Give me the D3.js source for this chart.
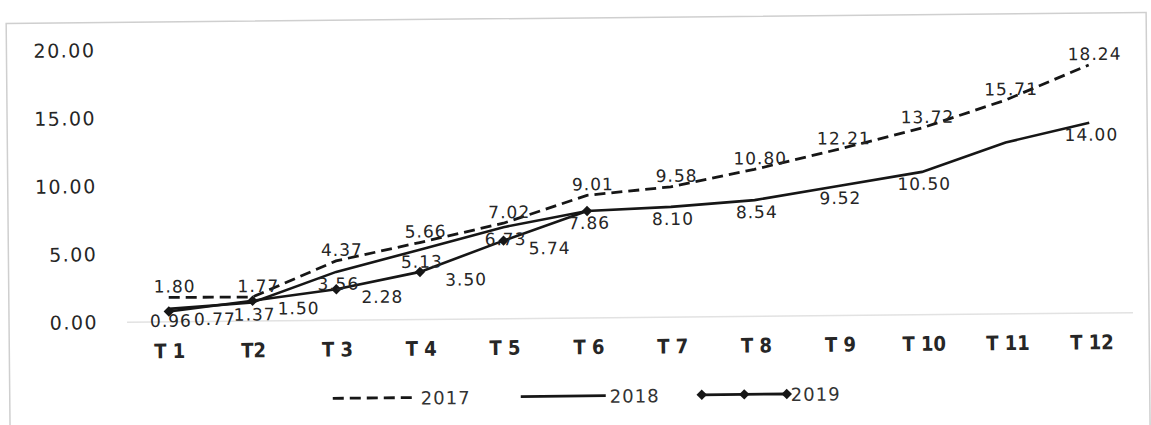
<!DOCTYPE html>
<html>
<head>
<meta charset="utf-8">
<script src="https://cdn.jsdelivr.net/npm/d3@7"></script>
<style>
  html, body { margin: 0; padding: 0; background: #fff; }
  svg { display: block; }
</style>
</head>
<body>
<script>
// chart data
const categories = ["T 1", "T2", "T 3", "T 4", "T 5", "T 6", "T 7", "T 8", "T 9", "T 10", "T 11", "T 12"];
const values2017 = [1.80, 1.77, 4.37, 5.66, 7.02, 9.01, 9.58, 10.80, 12.21, 13.72, 15.71, 18.24];
const values2018 = [0.96, 1.37, 3.56, 5.13, 6.73, 7.86, 8.10, 8.54, 9.52, 10.50, 12.60, 14.00];
const values2019 = [0.77, 1.50, 2.28, 3.50, 5.74, 7.86];
const seriesNames = ["2017", "2018", "2019"];
const yTicks = [0, 5, 10, 15, 20];
// labels not shown in the original
const hiddenLabels = { "2018": ["T 11"], "2019": ["T 6"] };

let w, h, svg, g, x, y, series;

w = 1151;
h = 425;

const ink = "#161616";
const textCol = "#262626";
const numFont = "'DejaVu Sans', Verdana, sans-serif";

const init = () => {
  series = seriesNames.map((name, i) => ({
    name: name,
    values: [values2017, values2018, values2019][i].map((v, j) => ({ cat: categories[j], value: v }))
  }));

  createSvg();
  createScales();
  createFrame();
  createAxes();
  createLines();
  createLabels();
  createLegend();
}

const createSvg = () => {
  svg = d3.select("body")
    .append("svg")
    .attr("width", w)
    .attr("height", h);

  // the scan is a little tilted
  g = svg.append("g")
    .attr("transform", "rotate(-0.55, 575, 212)");
}

const createScales = () => {
  x = d3.scalePoint()
    .domain(categories)
    .range([126, 1132])
    .padding(0.5);

  y = d3.scaleLinear()
    .domain([0, 20])
    .range([318, 46]);
}

const createFrame = () => {
  g.append("rect")
    .attr("x", 8)
    .attr("y", 18)
    .attr("width", 1140)
    .attr("height", 440)
    .attr("fill", "none")
    .attr("stroke", "#cfcfcf")
    .attr("stroke-width", 1.5);
}

const createAxes = () => {
  const yAxis = g.append("g")
    .attr("transform", "translate(126, 0)")
    .call(d3.axisLeft(y).tickValues(yTicks).tickSize(0).tickPadding(29).tickFormat(d3.format(".2f")));
  yAxis.select(".domain").remove();
  yAxis.selectAll("text")
    .attr("fill", textCol)
    .style("font-family", numFont)
    .style("font-size", "19px")
    .style("letter-spacing", "1.5px");

  const xAxis = g.append("g")
    .attr("transform", `translate(0, ${y(0)})`)
    .call(d3.axisBottom(x).tickSize(0).tickPadding(22));
  xAxis.select(".domain")
    .attr("stroke", "#e2e2e2")
    .attr("stroke-width", 1.5)
    .attr("d", `M126,0H1132`);
  xAxis.selectAll("text")
    .attr("fill", textCol)
    .style("font-family", "'DejaVu Sans Condensed', 'DejaVu Sans', sans-serif")
    .style("font-stretch", "condensed")
    .style("font-weight", "bold")
    .style("font-size", "20px");
}

const createLines = () => {
  const line = d3.line()
    .x(d => x(d.cat))
    .y(d => y(d.value));

  g.append("path")
    .datum(series[0].values)
    .attr("d", line)
    .attr("fill", "none")
    .attr("stroke", ink)
    .attr("stroke-width", 2.8)
    .attr("stroke-dasharray", "11,6");

  g.append("path")
    .datum(series[1].values)
    .attr("d", line)
    .attr("fill", "none")
    .attr("stroke", ink)
    .attr("stroke-width", 2.6);

  g.append("path")
    .datum(series[2].values)
    .attr("d", line)
    .attr("fill", "none")
    .attr("stroke", ink)
    .attr("stroke-width", 2.6);

  g.selectAll(".marker")
    .data(series[2].values)
    .join("path")
    .attr("class", "marker")
    .attr("d", d3.symbol(d3.symbolDiamond2, 70))
    .attr("transform", d => `translate(${x(d.cat)}, ${y(d.value)})`)
    .attr("fill", ink);
}

const createLabels = () => {
  // offsets of the data labels for each series
  const offsets = {
    "2017": [6, -5],
    "2018": [2, 18],
    "2019": [46, 14]
  };

  series.forEach(s => {
    const skip = hiddenLabels[s.name] || [];
    g.selectAll(`.label-${s.name}`)
      .data(s.values.filter(d => !skip.includes(d.cat)))
      .join("text")
      .attr("class", `label-${s.name}`)
      .attr("x", d => x(d.cat) + offsets[s.name][0])
      .attr("y", d => y(d.value) + offsets[s.name][1])
      .attr("text-anchor", "middle")
      .attr("fill", textCol)
      .style("font-family", numFont)
      .style("font-size", "17px")
      .style("letter-spacing", "1px")
      .text(d => d.value.toFixed(2));
  });
}

const createLegend = () => {
  const ly = 396;
  const legend = g.append("g").attr("class", "legend");

  const items = [
    { name: seriesNames[0], x0: 331, x1: 415, dash: "11,6", markers: false },
    { name: seriesNames[1], x0: 519, x1: 604, dash: null, markers: false },
    { name: seriesNames[2], x0: 700, x1: 785, dash: null, markers: true }
  ];

  items.forEach(it => {
    legend.append("line")
      .attr("x1", it.x0)
      .attr("x2", it.x1)
      .attr("y1", ly)
      .attr("y2", ly)
      .attr("stroke", ink)
      .attr("stroke-width", 2.8)
      .attr("stroke-dasharray", it.dash);

    if(it.markers){
      [it.x0, (it.x0 + it.x1) / 2, it.x1].forEach(mx => {
        legend.append("path")
          .attr("d", d3.symbol(d3.symbolDiamond2, 70))
          .attr("transform", `translate(${mx}, ${ly})`)
          .attr("fill", ink);
      });
    }

    legend.append("text")
      .attr("x", it.x1 + 4)
      .attr("y", ly + 7)
      .attr("fill", "#333")
      .style("font-family", numFont)
      .style("font-size", "18px")
      .style("letter-spacing", "1px")
      .text(it.name);
  });
}

init();
</script>
</body>
</html>
